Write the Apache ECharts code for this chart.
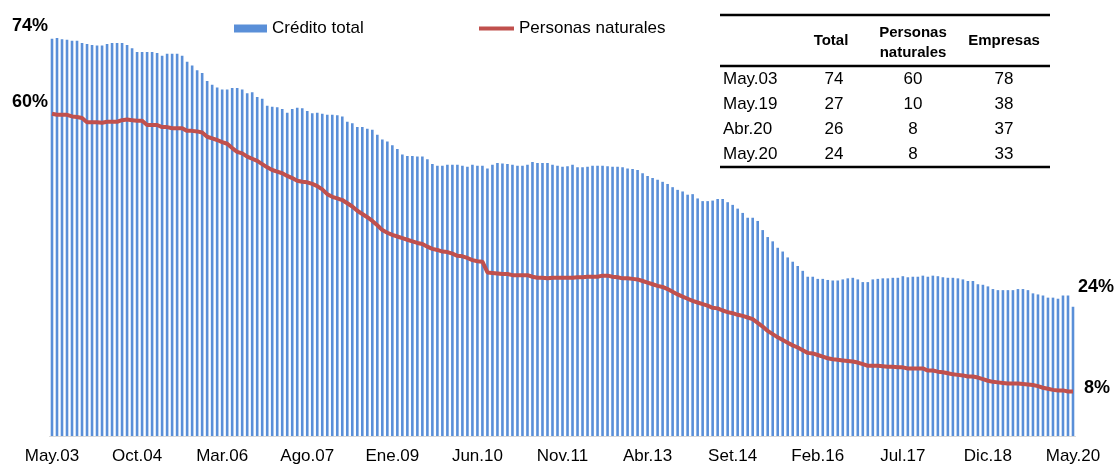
<!DOCTYPE html>
<html>
<head>
<meta charset="utf-8">
<script src="https://cdn.jsdelivr.net/npm/echarts@6/dist/echarts.min.js"></script>
<style>
  html, body { margin: 0; padding: 0; background: #fff; }
  #chart { width: 1116px; height: 466px; }
</style>
</head>
<body>
<div id="chart"></div>
<script>
// meses May.03 - May.20
var monthNames = ['Ene', 'Feb', 'Mar', 'Abr', 'May', 'Jun', 'Jul', 'Ago', 'Set', 'Oct', 'Nov', 'Dic'];
var startYear = 2003, startMonth = 4, nMonths = 205;

var creditoTotal = [
  74.1, 74.2, 74.0, 73.9, 73.7, 73.7, 73.3, 73.1, 72.9, 72.8, 72.8, 73.1, 73.3, 73.3, 73.3, 72.9, 72.3,
  71.6, 71.6, 71.6, 71.6, 71.4, 70.9, 71.3, 71.3, 71.3, 70.9, 69.8, 69.1, 68.2, 67.7, 66.2, 65.5, 65.0,
  64.6, 64.6, 64.9, 64.9, 64.6, 63.9, 64.1, 63.2, 62.9, 61.6, 61.4, 61.3, 61.0, 60.3, 61.0, 61.2, 61.1,
  60.6, 60.2, 60.3, 60.1, 59.9, 59.9, 59.8, 59.6, 58.6, 58.3, 57.6, 57.6, 57.3, 57.1, 56.2, 55.3, 54.9,
  54.2, 53.5, 52.5, 52.2, 52.2, 52.1, 52.1, 51.6, 50.7, 50.4, 50.4, 50.6, 50.6, 50.6, 50.4, 50.2, 50.6,
  50.4, 50.4, 49.9, 50.6, 50.9, 50.8, 50.7, 50.6, 50.4, 50.4, 50.6, 51.1, 50.9, 50.9, 50.9, 50.6, 50.4,
  50.2, 50.3, 50.6, 50.1, 50.1, 50.2, 50.4, 50.4, 50.4, 50.3, 50.2, 50.2, 50.1, 49.9, 49.8, 49.6, 49.0,
  48.5, 48.1, 47.8, 47.4, 47.0, 46.4, 45.9, 45.6, 45.0, 45.1, 44.3, 43.8, 43.8, 43.9, 44.2, 44.2, 43.6,
  43.1, 42.4, 41.6, 40.7, 40.7, 40.1, 38.4, 37.1, 36.3, 35.1, 34.4, 33.3, 32.5, 31.7, 30.8, 29.7, 29.7,
  29.3, 29.3, 29.1, 29.0, 29.0, 29.2, 29.4, 29.5, 29.2, 28.7, 28.7, 29.2, 29.3, 29.4, 29.4, 29.5, 29.5,
  29.8, 29.6, 29.7, 29.7, 29.9, 29.7, 29.9, 29.8, 29.6, 29.5, 29.5, 29.4, 29.2, 28.9, 28.9, 28.3, 28.2,
  27.9, 27.4, 27.2, 27.2, 27.2, 27.2, 27.4, 27.4, 27.2, 26.6, 26.4, 26.2, 25.8, 25.8, 25.6, 26.2, 26.2,
  24.1
];

var personasNaturales = [
  60.1, 59.9, 59.9, 59.9, 59.6, 59.5, 59.3, 58.5, 58.5, 58.5, 58.4, 58.6, 58.6, 58.6, 58.9, 59.0, 58.9,
  58.8, 58.8, 58.0, 58.0, 58.0, 57.6, 57.6, 57.4, 57.4, 57.4, 56.9, 56.9, 56.8, 56.6, 55.8, 55.5, 55.2,
  54.8, 54.5, 53.7, 53.0, 52.7, 52.1, 51.7, 51.3, 50.7, 50.1, 49.6, 49.3, 49.0, 48.5, 48.1, 47.6, 47.4,
  47.3, 47.0, 46.6, 46.0, 45.1, 44.6, 44.3, 44.0, 43.4, 42.8, 42.0, 41.4, 40.8, 40.1, 39.3, 38.4, 37.9,
  37.5, 37.2, 36.9, 36.6, 36.3, 36.0, 35.8, 35.3, 34.9, 34.7, 34.4, 34.3, 34.0, 33.6, 33.5, 33.2, 32.8,
  32.6, 32.5, 30.5, 30.4, 30.3, 30.2, 30.2, 30.0, 30.0, 30.0, 30.0, 29.7, 29.5, 29.5, 29.4, 29.5, 29.5,
  29.5, 29.5, 29.5, 29.6, 29.6, 29.7, 29.7, 29.7, 29.9, 29.9, 29.7, 29.6, 29.4, 29.4, 29.3, 29.2, 28.9,
  28.6, 28.3, 28.0, 27.8, 27.4, 26.9, 26.4, 26.0, 25.6, 25.2, 24.9, 24.6, 24.3, 23.9, 23.8, 23.4, 23.1,
  22.9, 22.6, 22.4, 22.1, 21.8, 21.1, 20.4, 19.6, 19.0, 18.4, 17.9, 17.4, 16.9, 16.5, 16.0, 15.5, 15.4,
  15.1, 14.8, 14.5, 14.3, 14.2, 14.1, 14.0, 13.9, 13.7, 13.4, 13.1, 13.1, 13.1, 13.0, 12.9, 12.9, 12.8,
  12.8, 12.6, 12.6, 12.6, 12.6, 12.2, 12.2, 12.0, 11.9, 11.7, 11.5, 11.4, 11.3, 11.1, 11.1, 10.9, 10.6,
  10.3, 10.1, 10.0, 9.9, 9.8, 9.8, 9.8, 9.7, 9.6, 9.5, 9.3, 9.0, 8.8, 8.6, 8.5, 8.5, 8.3, 8.3
];

// cuadro resumen
var tableHeader = ['Total', 'Personas\nnaturales', 'Empresas'];
var tableRowNames = ['May.03', 'May.19', 'Abr.20', 'May.20'];
var tableTotal = [74, 27, 26, 24];
var tablePersonas = [60, 10, 8, 8];
var tableEmpresas = [78, 38, 37, 33];

var categories = [];
for (var k = 0; k < nMonths; k++) {
  var m = (startMonth + k) % 12;
  var y = startYear + Math.floor((startMonth + k) / 12);
  categories.push(monthNames[m] + '.' + String(y % 100).padStart(2, '0'));
}

var FONT = 'Liberation Sans, Arial, sans-serif';

function txt (x, y, text, opts) {
  opts = opts || {};
  return {
    type: 'text',
    x: x,
    y: y,
    silent: true,
    style: {
      text: text,
      fontFamily: FONT,
      fontSize: opts.size || 17,
      fontWeight: opts.bold ? 'bold' : 'normal',
      fill: '#000',
      align: opts.align || 'center',
      verticalAlign: 'middle',
      lineHeight: opts.lineHeight || 20
    }
  };
}

function rule (y) {
  return {
    type: 'line',
    silent: true,
    shape: { x1: 720, y1: y, x2: 1050, y2: y },
    style: { stroke: '#000', lineWidth: 2.5 }
  };
}

var colX = [831, 913, 1004];
var rowY = [79, 104, 129, 154];
var graphics = [rule(15), rule(66), rule(167)];
graphics.push(txt(colX[0], 41, tableHeader[0], { bold: true, size: 15 }));
graphics.push(txt(colX[1], 43, tableHeader[1], { bold: true, size: 15, lineHeight: 20 }));
graphics.push(txt(colX[2], 41, tableHeader[2], { bold: true, size: 15 }));
tableRowNames.forEach(function (name, i) {
  graphics.push(txt(723, rowY[i], name, { align: 'left' }));
  graphics.push(txt(colX[0] + 3, rowY[i], String(tableTotal[i])));
  graphics.push(txt(colX[1], rowY[i], String(tablePersonas[i])));
  graphics.push(txt(colX[2], rowY[i], String(tableEmpresas[i])));
});
// etiquetas de extremos
graphics.push(txt(12, 26, Math.round(creditoTotal[0]) + '%', { bold: true, size: 18, align: 'left' }));
graphics.push(txt(12, 102, Math.round(personasNaturales[0]) + '%', { bold: true, size: 18, align: 'left' }));
graphics.push(txt(1078, 287, Math.round(creditoTotal[nMonths - 1]) + '%', { bold: true, size: 18, align: 'left' }));
graphics.push(txt(1084, 388, Math.round(personasNaturales[nMonths - 1]) + '%', { bold: true, size: 18, align: 'left' }));

var chart = echarts.init(document.getElementById('chart'));
chart.setOption({
  animation: false,
  backgroundColor: '#fff',
  textStyle: { fontFamily: FONT },
  grid: { left: 49.5, right: 40.5, top: 7, bottom: 30 },
  legend: [
    {
      data: ['Crédito total'],
      left: 229, top: 15,
      icon: 'rect', itemWidth: 33, itemHeight: 8,
      textStyle: { fontSize: 17, color: '#000', fontFamily: FONT }
    },
    {
      data: ['Personas naturales'],
      left: 474, top: 15,
      icon: 'rect', itemWidth: 35, itemHeight: 4,
      textStyle: { fontSize: 17, color: '#000', fontFamily: FONT }
    }
  ],
  xAxis: {
    type: 'category',
    data: categories,
    axisLine: { lineStyle: { color: '#d9d9d9', width: 1 } },
    axisTick: { show: false },
    axisLabel: { interval: 16, fontSize: 17, color: '#000', margin: 12, fontFamily: FONT }
  },
  yAxis: {
    type: 'value',
    min: 0, max: 80,
    show: false,
    splitLine: { show: false }
  },
  graphic: graphics,
  series: [
    {
      name: 'Crédito total',
      type: 'bar',
      data: creditoTotal,
      barWidth: '52%',
      itemStyle: { color: '#5a8fd8' }
    },
    {
      name: 'Personas naturales',
      type: 'line',
      data: personasNaturales,
      showSymbol: false,
      symbol: 'none',
      itemStyle: { color: '#c0504d' },
      lineStyle: { color: '#c0504d', width: 4 }
    }
  ]
});
</script>
</body>
</html>
